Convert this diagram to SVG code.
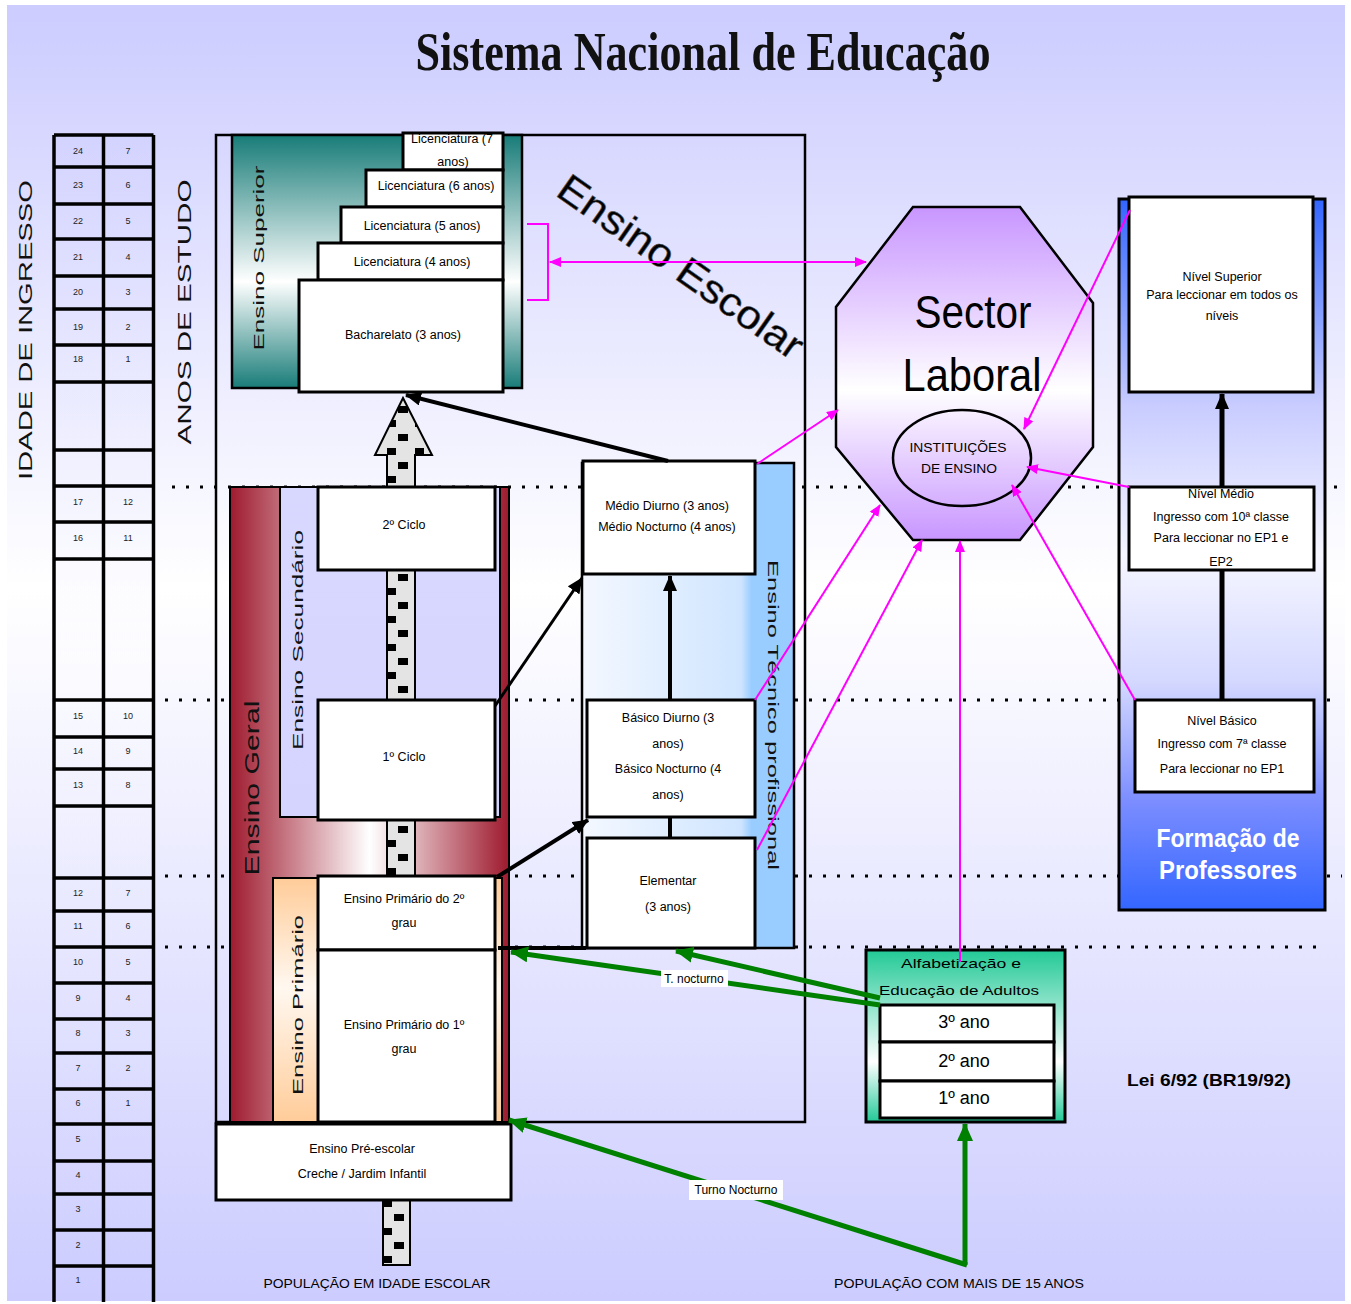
<svg xmlns="http://www.w3.org/2000/svg" width="1351" height="1304" viewBox="0 0 1351 1304">
<defs>
<style>
.t{font-family:"Liberation Sans",Arial,sans-serif;fill:#000;text-anchor:middle}
.s{font-size:12.5px}
.n{font-size:9px;font-family:"Liberation Sans",Arial,sans-serif;text-anchor:middle;fill:#222}
.v{font-family:"Liberation Sans",Arial,sans-serif;text-anchor:middle;dominant-baseline:central;fill:#111}
.box{fill:#fff;stroke:#000;stroke-width:3}
.dots{stroke:#000;stroke-width:3;stroke-dasharray:3 11;fill:none}
.blk{stroke:#000;fill:none}
.grn{stroke:#008000;stroke-width:5;fill:none}
.mag{stroke:#FF00FF;stroke-width:2;fill:none}
.tbl{stroke:#000;stroke-width:3.5;fill:none}
</style>
<linearGradient id="bg" x1="0" y1="0" x2="0" y2="1">
<stop offset="0" stop-color="#CCCCFF"/><stop offset="0.45" stop-color="#FFFFFF"/><stop offset="1" stop-color="#CCCCFF"/>
</linearGradient>
<linearGradient id="teal" x1="0" y1="0" x2="0" y2="1">
<stop offset="0" stop-color="#187C78"/><stop offset="0.58" stop-color="#FFFFFF"/><stop offset="1" stop-color="#187C78"/>
</linearGradient>
<linearGradient id="red" x1="0" y1="0" x2="1" y2="0">
<stop offset="0" stop-color="#9E1A2E"/><stop offset="0.5" stop-color="#FFFFFF"/><stop offset="1" stop-color="#9E1A2E"/>
</linearGradient>
<linearGradient id="peach" x1="0" y1="0" x2="0" y2="1">
<stop offset="0" stop-color="#FFCC99"/><stop offset="0.45" stop-color="#FFF8F0"/><stop offset="1" stop-color="#FFCC99"/>
</linearGradient>
<linearGradient id="lav" x1="0" y1="0" x2="0" y2="1">
<stop offset="0" stop-color="#D8D8FF"/><stop offset="1" stop-color="#D4D4FF"/>
</linearGradient>
<linearGradient id="blue" x1="0" y1="0" x2="1" y2="0">
<stop offset="0" stop-color="#F4F8FF"/><stop offset="0.75" stop-color="#CFE5FF"/><stop offset="0.8" stop-color="#99CCFF"/><stop offset="1" stop-color="#99CCFF"/>
</linearGradient>
<linearGradient id="purp" x1="0" y1="0" x2="0" y2="1">
<stop offset="0" stop-color="#C896FF"/><stop offset="0.55" stop-color="#FFFFFF"/><stop offset="1" stop-color="#C896FF"/>
</linearGradient>
<linearGradient id="prof" x1="0" y1="0" x2="0" y2="1">
<stop offset="0" stop-color="#3366FF"/><stop offset="0.29" stop-color="#C8CCFF"/><stop offset="0.5" stop-color="#F6F6FF"/><stop offset="0.68" stop-color="#D4D8FF"/><stop offset="0.85" stop-color="#7A8CFF"/><stop offset="1" stop-color="#3366FF"/>
</linearGradient>
<linearGradient id="grnG" x1="0" y1="0" x2="0" y2="1">
<stop offset="0" stop-color="#22C996"/><stop offset="0.65" stop-color="#FFFFFF"/><stop offset="1" stop-color="#22C996"/>
</linearGradient>
<pattern id="patA" patternUnits="userSpaceOnUse" x="387" y="0" width="28" height="28">
<rect width="28" height="28" fill="#E4E4E4"/><rect x="0" y="0" width="9" height="7" fill="#000"/><rect x="11" y="14" width="10" height="7" fill="#000"/>
</pattern>
<pattern id="patB" patternUnits="userSpaceOnUse" x="383" y="1200" width="28" height="28">
<rect width="28" height="28" fill="#E4E4E4"/><rect x="0" y="0" width="9" height="7" fill="#000"/><rect x="11" y="14" width="10" height="7" fill="#000"/>
</pattern>
<marker id="ab" markerUnits="userSpaceOnUse" markerWidth="16" markerHeight="14" refX="15" refY="7" orient="auto">
<path d="M0,0 L16,7 L0,14 z" fill="#000"/>
</marker>
<marker id="ag" markerUnits="userSpaceOnUse" markerWidth="18" markerHeight="16" refX="17" refY="8" orient="auto">
<path d="M0,0 L18,8 L0,16 z" fill="#008000"/>
</marker>
<marker id="am" markerUnits="userSpaceOnUse" markerWidth="12" markerHeight="10" refX="11" refY="5" orient="auto">
<path d="M0,0 L12,5 L0,10 z" fill="#FF00FF"/>
</marker>
<marker id="amS" markerUnits="userSpaceOnUse" markerWidth="12" markerHeight="10" refX="1" refY="5" orient="auto">
<path d="M12,0 L0,5 L12,10 z" fill="#FF00FF"/>
</marker>
</defs>

<rect x="0" y="0" width="1351" height="1304" fill="#fff"/>
<rect x="7" y="5" width="1338" height="1296" fill="url(#bg)"/>

<text x="703" y="70" font-family="Liberation Serif,Times New Roman,serif" font-size="54" font-weight="bold" text-anchor="middle" textLength="575" lengthAdjust="spacingAndGlyphs" fill="#111">Sistema Nacional de Educação</text>

<!-- dotted horizontal level lines -->
<g id="levels">
<line class="dots" x1="172" y1="487" x2="1342" y2="487"/>
<line class="dots" x1="165" y1="700" x2="1340" y2="700"/>
<line class="dots" x1="165" y1="876" x2="1342" y2="876"/>
<line class="dots" x1="165" y1="947" x2="1322" y2="947"/>
</g>

<!-- age / years table -->
<g id="table">
<rect x="54" y="135" width="100" height="1165" fill="url(#bg)" fill-opacity="0.4"/>
<path class="tbl" d="M54,135 V1302 M103.5,135 V1302 M153.5,135 V1302"/>
<path class="tbl" d="M54,135 H153.5 M54,167 H153.5 M54,204 H153.5 M54,239 H153.5 M54,276 H153.5 M54,309 H153.5 M54,345 H153.5 M54,382 H153.5 M54,450 H153.5 M54,486 H153.5 M54,522 H153.5 M54,559 H153.5 M54,700 H153.5 M54,737 H153.5 M54,769 H153.5 M54,806 H153.5 M54,878 H153.5 M54,911 H153.5 M54,947 H153.5 M54,983 H153.5 M54,1019 H153.5 M54,1053 H153.5 M54,1089 H153.5 M54,1124 H153.5 M54,1161 H153.5 M54,1194 H153.5 M54,1230 H153.5 M54,1266 H153.5"/>
<g class="n">
<text x="78" y="154">24</text><text x="128" y="154">7</text>
<text x="78" y="188">23</text><text x="128" y="188">6</text>
<text x="78" y="224">22</text><text x="128" y="224">5</text>
<text x="78" y="260">21</text><text x="128" y="260">4</text>
<text x="78" y="295">20</text><text x="128" y="295">3</text>
<text x="78" y="330">19</text><text x="128" y="330">2</text>
<text x="78" y="362">18</text><text x="128" y="362">1</text>
<text x="78" y="505">17</text><text x="128" y="505">12</text>
<text x="78" y="541">16</text><text x="128" y="541">11</text>
<text x="78" y="719">15</text><text x="128" y="719">10</text>
<text x="78" y="754">14</text><text x="128" y="754">9</text>
<text x="78" y="788">13</text><text x="128" y="788">8</text>
<text x="78" y="896">12</text><text x="128" y="896">7</text>
<text x="78" y="929">11</text><text x="128" y="929">6</text>
<text x="78" y="965">10</text><text x="128" y="965">5</text>
<text x="78" y="1001">9</text><text x="128" y="1001">4</text>
<text x="78" y="1036">8</text><text x="128" y="1036">3</text>
<text x="78" y="1071">7</text><text x="128" y="1071">2</text>
<text x="78" y="1106">6</text><text x="128" y="1106">1</text>
<text x="78" y="1142">5</text>
<text x="78" y="1178">4</text>
<text x="78" y="1212">3</text>
<text x="78" y="1248">2</text>
<text x="78" y="1283">1</text>
</g>
</g>
<text class="v" font-size="19" transform="translate(25,330) rotate(-90)" textLength="300" lengthAdjust="spacingAndGlyphs">IDADE DE INGRESSO</text>
<text class="v" font-size="19" transform="translate(184,312) rotate(-90)" textLength="265" lengthAdjust="spacingAndGlyphs">ANOS DE ESTUDO</text>

<!-- Ensino Escolar frame -->
<g id="ensino-escolar">
<rect x="216" y="135" width="589" height="987" fill="none" stroke="#000" stroke-width="2.5"/>
<text x="680" y="280" transform="rotate(35 680 268)" font-family="Liberation Sans,Arial,sans-serif" font-size="40" text-anchor="middle" textLength="290" lengthAdjust="spacingAndGlyphs" fill="#000" stroke="#555" stroke-width="0.6">Ensino Escolar</text>
</g>

<!-- Ensino Superior -->
<g id="ensino-superior">
<rect x="232" y="135" width="290" height="253" fill="url(#teal)" stroke="#000" stroke-width="2.5"/>
<text class="v" font-size="15" transform="translate(258,258) rotate(-90)" textLength="185" lengthAdjust="spacingAndGlyphs">Ensino Superior</text>
<g id="lic7"><rect class="box" x="403" y="133" width="100" height="37"/><text class="t s" x="452" y="143">Licenciatura (7</text><text class="t s" x="453" y="166">anos)</text></g>
<g id="lic6"><rect class="box" x="366" y="170" width="137" height="37"/><text class="t s" x="436" y="190">Licenciatura (6 anos)</text></g>
<g id="lic5"><rect class="box" x="341" y="207" width="162" height="36"/><text class="t s" x="422" y="230">Licenciatura (5 anos)</text></g>
<g id="lic4"><rect class="box" x="318" y="243" width="185" height="37"/><text class="t s" x="412" y="266">Licenciatura (4 anos)</text></g>
<g id="bach"><rect class="box" x="299" y="280" width="204" height="112"/><text class="t s" x="403" y="339">Bacharelato (3 anos)</text></g>
</g>

<!-- Ensino Geral -->
<g id="ensino-geral">
<rect x="230" y="487" width="279" height="635" fill="url(#red)" stroke="#000" stroke-width="2"/>
<text class="v" font-size="20" transform="translate(252,788) rotate(-90)" textLength="175" lengthAdjust="spacingAndGlyphs">Ensino Geral</text>
</g>
<g id="ensino-secundario">
<rect x="280" y="487" width="220" height="330" fill="url(#lav)" stroke="#000" stroke-width="2"/>
<text class="v" font-size="15" transform="translate(297,640) rotate(-90)" textLength="220" lengthAdjust="spacingAndGlyphs">Ensino Secundário</text>
</g>
<g id="ensino-primario">
<rect x="273" y="878" width="229" height="244" fill="url(#peach)" stroke="#000" stroke-width="2"/>
<text class="v" font-size="15" transform="translate(297,1005) rotate(-90)" textLength="180" lengthAdjust="spacingAndGlyphs">Ensino Primário</text>
</g>

<!-- dotted progression arrow -->
<g id="progression">
<path d="M387,880 V455 H375 L403,398 L432,455 H415 V880 Z" fill="url(#patA)" stroke="#000" stroke-width="2"/>
<rect x="383" y="1200" width="27" height="65" fill="url(#patB)" stroke="#000" stroke-width="2"/>
</g>

<g id="ciclo2"><rect class="box" x="318" y="487" width="177" height="83"/><text class="t s" x="404" y="529">2º Ciclo</text></g>
<g id="ciclo1"><rect class="box" x="318" y="700" width="177" height="120"/><text class="t s" x="404" y="761">1º Ciclo</text></g>
<g id="prim2"><rect class="box" x="318" y="876" width="177" height="74"/><text class="t s" x="404" y="903">Ensino Primário do 2º</text><text class="t s" x="404" y="927">grau</text></g>
<g id="prim1"><rect class="box" x="318" y="950" width="177" height="172"/><text class="t s" x="404" y="1029">Ensino Primário do 1º</text><text class="t s" x="404" y="1053">grau</text></g>

<g id="pre-escolar">
<rect class="box" x="216" y="1124" width="295" height="76"/>
<text class="t s" x="362" y="1153">Ensino Pré-escolar</text>
<text class="t s" x="362" y="1178">Creche / Jardim Infantil</text>
</g>
<text class="t" font-size="12" x="377" y="1288" textLength="227" lengthAdjust="spacingAndGlyphs">POPULAÇÃO EM IDADE ESCOLAR</text>

<!-- Ensino Tecnico -->
<g id="ensino-tecnico">
<rect x="582" y="463" width="212" height="485" fill="url(#blue)" stroke="#000" stroke-width="2.5"/>
<text class="v" font-size="15" transform="translate(773,715) rotate(90)" textLength="310" lengthAdjust="spacingAndGlyphs">Ensino Técnico profissional</text>
</g>
<g id="medio"><rect class="box" x="583" y="461" width="172" height="113"/><text class="t s" x="667" y="510">Médio Diurno (3 anos)</text><text class="t s" x="667" y="531">Médio Nocturno (4 anos)</text></g>
<g id="basico"><rect class="box" x="587" y="700" width="168" height="117"/><text class="t s" x="668" y="722">Básico Diurno (3</text><text class="t s" x="668" y="748">anos)</text><text class="t s" x="668" y="773">Básico Nocturno (4</text><text class="t s" x="668" y="799">anos)</text></g>
<g id="elementar"><rect class="box" x="587" y="838" width="168" height="110"/><text class="t s" x="668" y="885">Elementar</text><text class="t s" x="668" y="911">(3 anos)</text></g>

<!-- Sector Laboral -->
<g id="sector-laboral">
<polygon points="913,207 1020,207 1093,303 1093,447 1020,540 913,540 836,447 836,307" fill="url(#purp)" stroke="#000" stroke-width="2.5"/>
<text x="973" y="328" font-family="Liberation Sans,Arial,sans-serif" font-size="46" text-anchor="middle" textLength="117" lengthAdjust="spacingAndGlyphs" fill="#000">Sector</text>
<text x="972" y="391" font-family="Liberation Sans,Arial,sans-serif" font-size="46" text-anchor="middle" textLength="139" lengthAdjust="spacingAndGlyphs" fill="#000">Laboral</text>
</g>
<g id="instituicoes">
<ellipse cx="962" cy="458" rx="69" ry="48" fill="none" stroke="#000" stroke-width="2.5"/>
<text class="t" font-size="13" x="958" y="452" textLength="97" lengthAdjust="spacingAndGlyphs">INSTITUIÇÕES</text>
<text class="t" font-size="13" x="959" y="473" textLength="76" lengthAdjust="spacingAndGlyphs">DE ENSINO</text>
</g>

<!-- Formacao de Professores -->
<g id="formacao">
<rect x="1119" y="199" width="206" height="711" fill="url(#prof)" stroke="#000" stroke-width="3"/>
<text x="1228" y="847" font-family="Liberation Sans,Arial,sans-serif" font-size="26" font-weight="bold" text-anchor="middle" textLength="143" lengthAdjust="spacingAndGlyphs" fill="#fff">Formação de</text>
<text x="1228" y="879" font-family="Liberation Sans,Arial,sans-serif" font-size="26" font-weight="bold" text-anchor="middle" textLength="138" lengthAdjust="spacingAndGlyphs" fill="#fff">Professores</text>
</g>
<g id="nivel-superior"><rect class="box" x="1129" y="197" width="184" height="195"/><text class="t s" x="1222" y="281">Nível Superior</text><text class="t s" x="1222" y="299">Para leccionar em todos os</text><text class="t s" x="1222" y="320">níveis</text></g>
<g id="nivel-medio"><rect class="box" x="1129" y="487" width="185" height="83"/><text class="t s" x="1221" y="498">Nível Médio</text><text class="t s" x="1221" y="521">Ingresso com 10ª classe</text><text class="t s" x="1221" y="542">Para leccionar no EP1 e</text><text class="t s" x="1221" y="566">EP2</text></g>
<g id="nivel-basico"><rect class="box" x="1135" y="700" width="179" height="92"/><text class="t s" x="1222" y="725">Nível Básico</text><text class="t s" x="1222" y="748">Ingresso com 7ª classe</text><text class="t s" x="1222" y="773">Para leccionar no EP1</text></g>

<!-- Alfabetizacao -->
<g id="alfabetizacao">
<rect x="866" y="950" width="199" height="172" fill="url(#grnG)" stroke="#000" stroke-width="3"/>
<text class="t" font-size="13" x="961" y="968" textLength="120" lengthAdjust="spacingAndGlyphs">Alfabetização e</text>
<text class="t" font-size="13" x="959" y="995" textLength="160" lengthAdjust="spacingAndGlyphs">Educação de Adultos</text>
<rect class="box" x="880" y="1005" width="174" height="37"/><text class="t" font-size="18" x="964" y="1028">3º ano</text>
<rect class="box" x="880" y="1042" width="174" height="39"/><text class="t" font-size="18" x="964" y="1067">2º ano</text>
<rect class="box" x="880" y="1081" width="174" height="37"/><text class="t" font-size="18" x="964" y="1104">1º ano</text>
</g>
<text class="t" font-size="12" x="959" y="1288" textLength="250" lengthAdjust="spacingAndGlyphs">POPULAÇÃO COM MAIS DE 15 ANOS</text>
<text x="1209" y="1086" font-family="Liberation Sans,Arial,sans-serif" font-size="17" font-weight="bold" text-anchor="middle" textLength="164" lengthAdjust="spacingAndGlyphs" fill="#000">Lei 6/92 (BR19/92)</text>

<!-- connectors -->
<g id="connectors">
<line class="blk" stroke-width="4" x1="668" y1="461" x2="406" y2="395" marker-end="url(#ab)"/>
<line class="blk" stroke-width="3" x1="495" y1="706" x2="582" y2="578" marker-end="url(#ab)"/>
<line class="blk" stroke-width="4" x1="497" y1="877" x2="588" y2="820" marker-end="url(#ab)"/>
<line class="blk" stroke-width="4" x1="670" y1="700" x2="670" y2="576" marker-end="url(#ab)"/>
<line class="blk" stroke-width="4" x1="670" y1="838" x2="670" y2="816"/>
<line class="blk" stroke-width="4" x1="498" y1="948" x2="586" y2="948"/>
<line class="blk" stroke-width="5" x1="1222" y1="700" x2="1222" y2="570"/>
<line class="blk" stroke-width="5" x1="1222" y1="487" x2="1222" y2="394" marker-end="url(#ab)"/>

<line class="grn" x1="880" y1="1005" x2="511" y2="952" marker-end="url(#ag)"/>
<line class="grn" x1="880" y1="998" x2="676" y2="951" marker-end="url(#ag)"/>
<line class="grn" x1="965" y1="1265" x2="965" y2="1124" marker-end="url(#ag)"/>
<line class="grn" x1="967" y1="1265" x2="509" y2="1120" marker-end="url(#ag)"/>

<path class="mag" d="M527,224 H548 V300 H527"/>
<line class="mag" x1="550" y1="262" x2="866" y2="262" marker-start="url(#amS)" marker-end="url(#am)"/>
<line class="mag" x1="757" y1="464" x2="838" y2="410" marker-end="url(#am)"/>
<line class="mag" x1="755" y1="700" x2="880" y2="505" marker-end="url(#am)"/>
<line class="mag" x1="757" y1="850" x2="922" y2="540" marker-end="url(#am)"/>
<line class="mag" x1="960" y1="962" x2="960" y2="541" marker-end="url(#am)"/>
<line class="mag" x1="1130" y1="210" x2="1024" y2="429" marker-end="url(#am)"/>
<line class="mag" x1="1129" y1="487" x2="1027" y2="467" marker-end="url(#am)"/>
<line class="mag" x1="1135" y1="700" x2="1012" y2="485" marker-end="url(#am)"/>
</g>

<g id="labels">
<rect x="661" y="970" width="67" height="17" fill="#fff"/>
<text class="t" font-size="12" x="694" y="983">T. nocturno</text>
<rect x="689" y="1180" width="94" height="20" fill="#fff"/>
<text class="t" font-size="12" x="736" y="1194">Turno Nocturno</text>
</g>
</svg>
